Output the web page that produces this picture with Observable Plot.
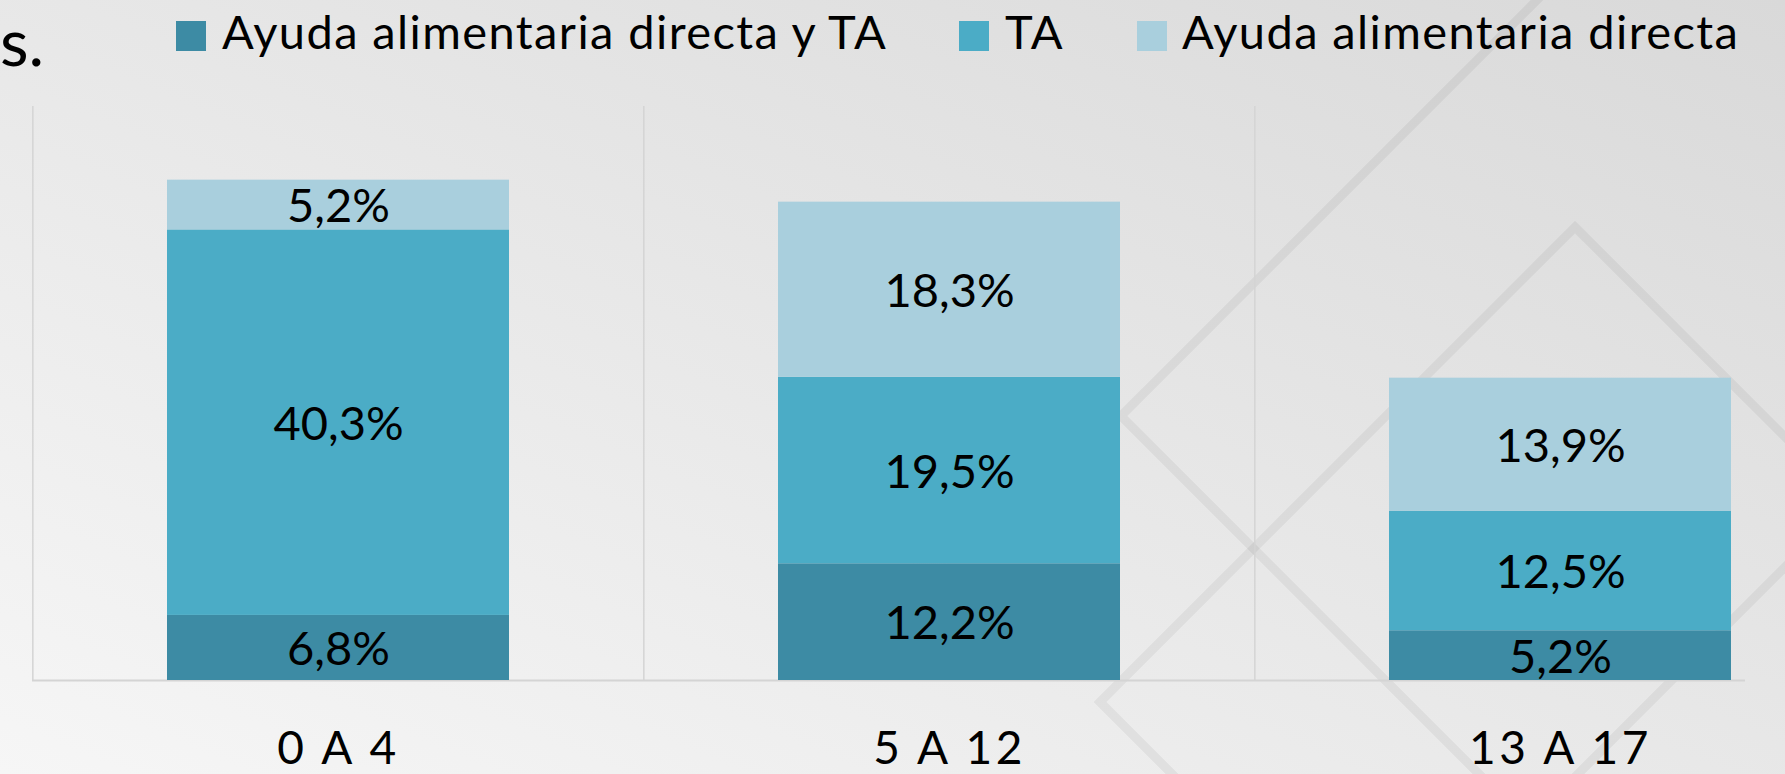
<!DOCTYPE html>
<html><head><meta charset="utf-8">
<script src="https://cdn.jsdelivr.net/npm/d3@7"></script>
<script src="https://cdn.jsdelivr.net/npm/@observablehq/plot@0.6"></script>
<style>
html,body{margin:0;padding:0;width:1785px;height:774px;overflow:hidden;}
body{background:linear-gradient(to top right,#f6f6f6,#d9d9d9);font-family:Lato,sans-serif;position:relative;color:#000;}
#deco{position:absolute;left:0;top:0;z-index:0;}
#head{position:relative;height:80px;width:1785px;z-index:1;}
#chart{position:relative;z-index:1;}
.tfrag{position:absolute;left:0px;top:6px;font-size:66px;line-height:70px;white-space:nowrap;}
.sw{position:absolute;top:21px;width:30px;height:30px;}
.lt{position:absolute;top:8px;font-size:47px;line-height:47px;letter-spacing:1.4px;white-space:nowrap;}
g[aria-label="x-axis tick label"] text{letter-spacing:3.5px;}
</style></head>
<body>
<svg id="deco" width="1785" height="774">
  <g fill="none" stroke="rgba(0,0,0,0.05)" stroke-width="9">
    <polygon points="1121,416 1721,-184 2321,416 1721,1016"/>
    <polygon points="1575,227 2050,702 1575,1177 1100,702"/>
    <line x1="1500" y1="852" x2="2000" y2="352"/>
  </g>
</svg>
<div id="head"><div class="tfrag">s.</div></div>
<div id="chart"></div>
<script>
const categories = ["0 A 4", "5 A 12", "13 A 17"];
const series = ["Ayuda alimentaria directa y TA", "TA", "Ayuda alimentaria directa"];
const ayudaYTA = [6.8, 12.2, 5.2];
const ta = [40.3, 19.5, 12.5];
const ayudaDirecta = [5.2, 18.3, 13.9];
const colors = ["#3d8ba4", "#4bacc6", "#a9cfdd"];
const legendSwatchX = [176, 959, 1137];
const legendTextX = [222, 1005, 1182];

const valuesBySeries = [ayudaYTA, ta, ayudaDirecta];
const rows = [];
categories.forEach((c, i) => {
  series.forEach((s, j) => rows.push({group: c, series: s, value: valuesBySeries[j][i]}));
});
const fmt = v => v.toFixed(1).replace(".", ",") + "%";

// legend
const head = document.getElementById("head");
series.forEach((s, j) => {
  const sw = document.createElement("div");
  sw.className = "sw"; sw.style.left = legendSwatchX[j] + "px"; sw.style.background = colors[j];
  head.appendChild(sw);
  const t = document.createElement("div");
  t.className = "lt"; t.style.left = legendTextX[j] + "px"; t.textContent = s;
  head.appendChild(t);
});

const xOpts = {type: "band", domain: categories, range: [32, 1866], paddingInner: 0.44, paddingOuter: 0.22, align: 0.5};
const xs = Plot.scale({x: xOpts});
const step = xs.step;

const plot = Plot.plot({
  width: 1785, height: 694,
  marginTop: 26, marginBottom: 94, marginLeft: 32, marginRight: 40,
  style: {background: "transparent", fontFamily: "Lato, sans-serif", color: "#000", overflow: "hidden"},
  x: xOpts,
  y: {domain: [0, 60], axis: null},
  color: {domain: series, range: colors},
  marks: [
    Plot.ruleX(categories, {x: d => d, dx: -step / 2, y1: 0, y2: 60, stroke: "#d4d4d4", strokeWidth: 1.5}),
    Plot.ruleY([0], {stroke: "#d4d4d4", strokeWidth: 2}),
    Plot.barY(rows, {x: "group", y: "value", fill: "series", order: series}),
    Plot.text(rows, Plot.stackY({x: "group", y: "value", z: "series", order: series, text: d => fmt(d.value), fontSize: 47, fill: "#000", dy: 2})),
    Plot.axisX({tickSize: 0, tickPadding: 51, fontSize: 46, label: null, fill: "#000"})
  ]
});
document.getElementById("chart").appendChild(plot);
</script>
</body></html>
